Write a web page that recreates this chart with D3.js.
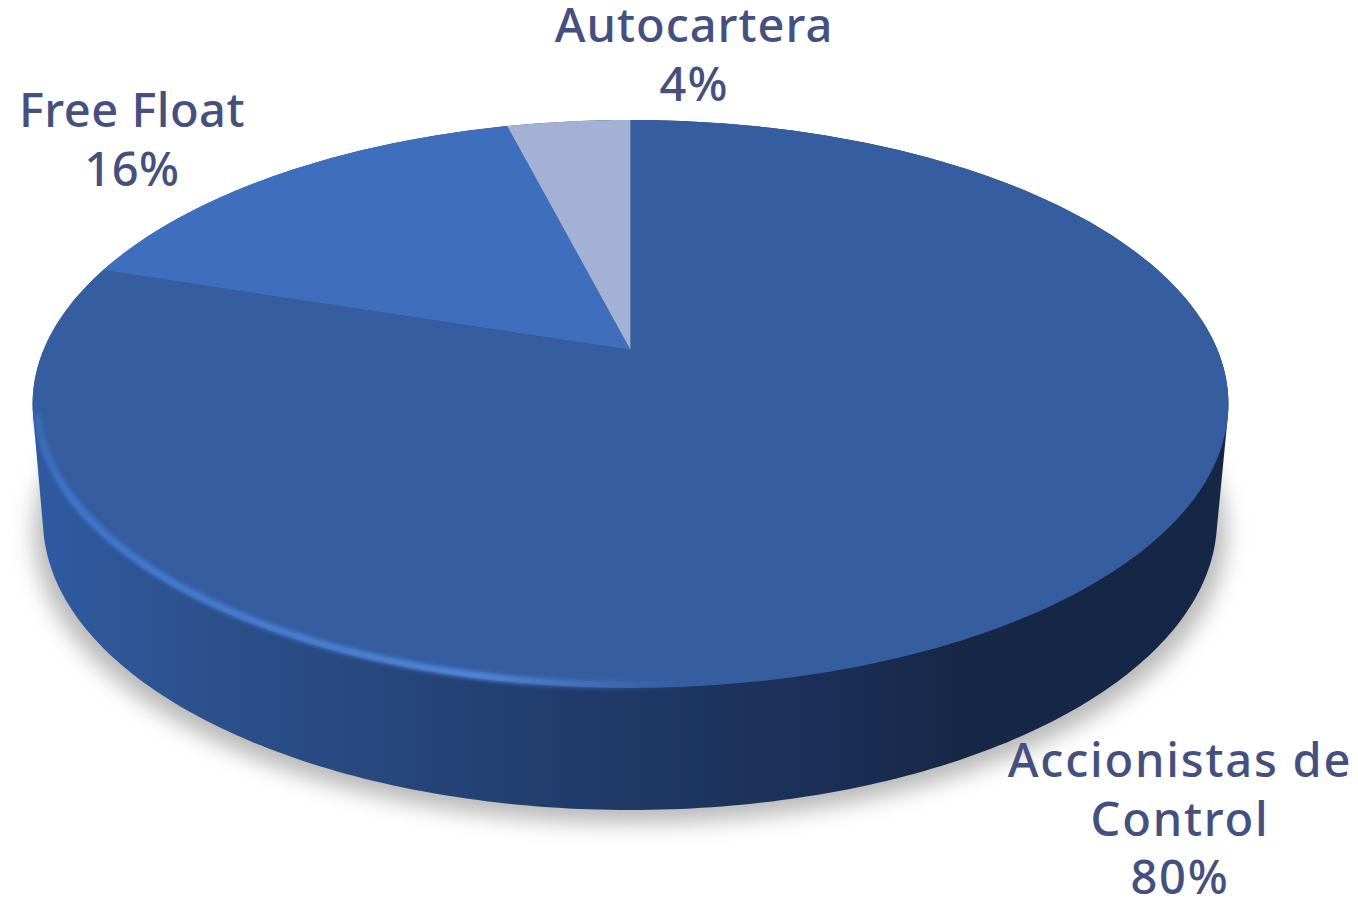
<!DOCTYPE html>
<html>
<head>
<meta charset="utf-8">
<script src="https://cdnjs.cloudflare.com/ajax/libs/d3/7.8.5/d3.min.js"></script>
<style>
  html, body { margin: 0; background: #fff; }
  svg { display: block; }
  .label { font-family: "Noto Sans", sans-serif; font-size: 47px; font-weight: 500; fill: #46507f; text-anchor: middle; }
</style>
</head>
<body>
<script>
"use strict";

var categories = ["Accionistas de Control", "Free Float", "Autocartera"];
var values = [80, 16, 4];
var percentLabels = ["80%", "16%", "4%"];
var sliceColors = ["#355da0", "#3f6ebd", "#a3b1d6"];

var width = 1358;
var height = 900;

var svg = d3.select("body").append("svg")
  .attr("width", width)
  .attr("height", height);

var defs = svg.append("defs");

defs.append("filter").attr("id", "shadowBlur")
  .attr("x", "-10%").attr("y", "-10%").attr("width", "120%").attr("height", "120%")
  .append("feGaussianBlur").attr("stdDeviation", 11);

defs.append("filter").attr("id", "rimBlur")
  .attr("x", "-5%").attr("y", "-5%").attr("width", "110%").attr("height", "110%")
  .append("feGaussianBlur").attr("stdDeviation", 2);

// wall shading, left to right
var wallGrad = defs.append("linearGradient").attr("id", "wall")
  .attr("gradientUnits", "userSpaceOnUse")
  .attr("x1", 40).attr("x2", 1220).attr("y1", 0).attr("y2", 0);
[[0, "#2f5aa2"], [0.12, "#2d528f"], [0.3, "#27467c"], [0.5, "#1f3866"], [0.66, "#1b2f58"], [0.78, "#172746"], [1, "#162646"]]
  .forEach(function(s) {
    wallGrad.append("stop").attr("offset", s[0]).attr("stop-color", s[1]);
  });

var rimGrad = defs.append("linearGradient").attr("id", "rim")
  .attr("gradientUnits", "userSpaceOnUse")
  .attr("x1", 32).attr("x2", 680).attr("y1", 0).attr("y2", 0);
rimGrad.append("stop").attr("offset", 0).attr("stop-color", "#4177cf").attr("stop-opacity", 0.4);
rimGrad.append("stop").attr("offset", 0.06).attr("stop-color", "#4177cf").attr("stop-opacity", 1);
rimGrad.append("stop").attr("offset", 0.7).attr("stop-color", "#5287dc").attr("stop-opacity", 1);
rimGrad.append("stop").attr("offset", 1).attr("stop-color", "#5287dc").attr("stop-opacity", 0);

// the disc is seen in perspective, so its centre sits above the middle of the ellipse
var tilt = -0.19;
var project = function(a, r) {
  var u = r * Math.sin(a);
  var v = -r * Math.cos(a);
  var w = 1 + tilt * v;
  return [630.5 + 587 * u / w, (350 + 207.2 * v) / w];
};

var angleSteps = d3.range(0, 2 * Math.PI, Math.PI / 180);
var line = d3.line();

var topRing = angleSteps.map(function(a) { return project(a, 1); });
var baseRing = angleSteps.map(function(a) {
  return [630 + 587 * Math.sin(a), 520 - 290 * Math.cos(a)];
});

// shadow
svg.append("path")
  .attr("d", line(baseRing.map(function(p) { return [630 + (p[0] - 630) * 1.015, p[1]]; })) + "Z")
  .attr("transform", "translate(0,13)")
  .attr("fill", "#b8b8b8")
  .attr("filter", "url(#shadowBlur)");

// wall
svg.append("path")
  .attr("d", line(d3.polygonHull(topRing.concat(baseRing))) + "Z")
  .attr("fill", "url(#wall)");

// slices
var pie = d3.pie().sort(null);
var arcs = pie(values);

svg.append("g").selectAll("path")
  .data(arcs)
  .enter().append("path")
  .attr("d", function(d) {
    var n = Math.ceil((d.endAngle - d.startAngle) / (Math.PI / 180));
    var pts = d3.range(n + 1).map(function(i) {
      return project(d.startAngle + (d.endAngle - d.startAngle) * i / n, 1);
    });
    pts.unshift(project(0, 0));
    return line(pts) + "Z";
  })
  .attr("fill", function(d, i) { return sliceColors[i]; });

// light rim along the lower left edge
var rimAngles = d3.range(170, 258, 1).map(function(deg) { return deg * Math.PI / 180; });
svg.append("path")
  .attr("d", line(rimAngles.map(function(a) { return project(a, 0.993); })))
  .attr("fill", "none")
  .attr("stroke", "url(#rim)")
  .attr("stroke-width", 7)
  .attr("filter", "url(#rimBlur)");

// labels
var labelLines = [
  ["Accionistas de", "Control", percentLabels[0]],
  [categories[1], percentLabels[1]],
  [categories[2], percentLabels[2]]
];
var labelAnchors = [[1180, 777], [132, 127], [694, 42]];
var labelSpacing = [1.8, 0.5, 1];
var lineStep = 58.5;

labelLines.forEach(function(lines, i) {
  svg.append("text")
    .attr("class", "label")
    .attr("letter-spacing", labelSpacing[i])
    .selectAll("tspan")
    .data(lines)
    .enter().append("tspan")
    .attr("x", labelAnchors[i][0])
    .attr("y", function(d, j) { return labelAnchors[i][1] + j * lineStep; })
    .text(function(d) { return d; });
});
</script>
</body>
</html>
